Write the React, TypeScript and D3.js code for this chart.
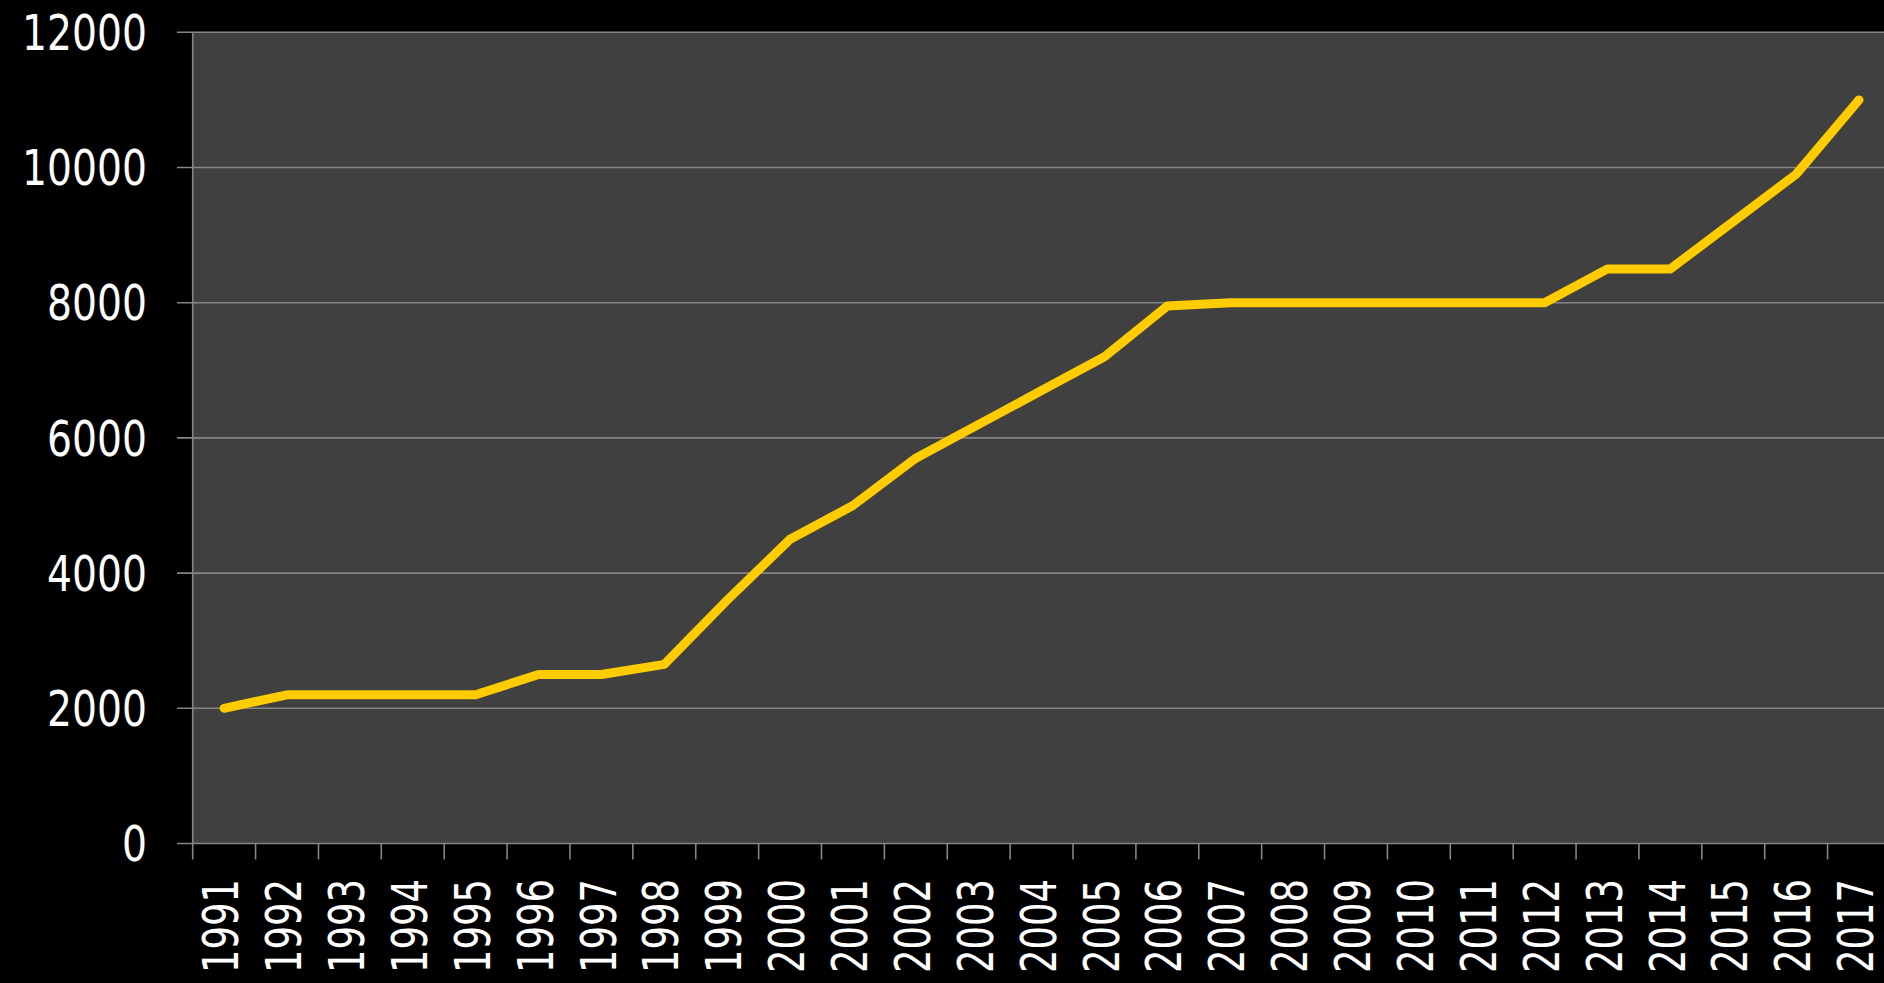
import React from "react";
import * as d3 from "d3";

const years = [
  "1991","1992","1993","1994","1995","1996","1997","1998","1999","2000",
  "2001","2002","2003","2004","2005","2006","2007","2008","2009","2010",
  "2011","2012","2013","2014","2015","2016","2017",
];
const values = [
  2000, 2200, 2200, 2200, 2200, 2500, 2500, 2650, 3600, 4500,
  5000, 5700, 6200, 6700, 7200, 7950, 8000, 8000, 8000, 8000,
  8000, 8000, 8500, 8500, 9200, 9900, 11000,
];
const yTicks = [0, 2000, 4000, 6000, 8000, 10000, 12000];

const W = 1884;
const H = 983;
const left = 192.7;
const bandW = 62.88;
const right = left + years.length * bandW;
const top = 32.3;
const bottom = 843.5;

export default function App() {
  const x = d3.scaleBand<string>().domain(years).range([left, right]).paddingInner(0).paddingOuter(0);
  const y = d3.scaleLinear().domain([0, 12000]).range([bottom, top]);
  const line = d3
    .line<number>()
    .x((_, i) => (x(years[i]) as number) + x.bandwidth() / 2)
    .y((d) => y(d));
  const grid = "#858585";
  const font = "'DejaVu Sans', Verdana, sans-serif";
  return (
    <>
      <style>{`body{margin:0;background:#000;overflow:hidden}`}</style>
      <svg width={W} height={H} style={{ display: "block", background: "#000" }}>
        <rect x={left} y={top} width={right - left} height={bottom - top} fill="#404040" />
        {yTicks.map((t) => (
          <g key={t}>
            <line x1={177} x2={right} y1={y(t)} y2={y(t)} stroke={grid} strokeWidth={1.6} />
            <text
              x={147}
              y={y(t)}
              dy="0.36em"
              textAnchor="end"
              fill="#fff"
              fontFamily={font}
              fontSize={49}
              textLength={String(t).length * 25}
              lengthAdjust="spacingAndGlyphs"
            >
              {t}
            </text>
          </g>
        ))}
        <line x1={left} x2={left} y1={top} y2={bottom + 16} stroke={grid} strokeWidth={1.6} />
        {years.map((yr, i) => (
          <line
            key={"t" + yr}
            x1={left + (i + 1) * bandW}
            x2={left + (i + 1) * bandW}
            y1={bottom}
            y2={bottom + 16}
            stroke={grid}
            strokeWidth={1.6}
          />
        ))}
        {years.map((yr) => {
          const cx = (x(yr) as number) + x.bandwidth() / 2 - 3.5;
          return (
            <text
              key={"l" + yr}
              transform={`translate(${cx},${879}) rotate(-90)`}
              textAnchor="end"
              dy="0.36em"
              fill="#fff"
              fontFamily={font}
              fontSize={49}
              textLength={94}
              lengthAdjust="spacingAndGlyphs"
            >
              {yr}
            </text>
          );
        })}
        <path
          d={line(values) || ""}
          fill="none"
          stroke="#FFCC00"
          strokeWidth={9}
          strokeLinejoin="round"
          strokeLinecap="round"
        />
      </svg>
    </>
  );
}
